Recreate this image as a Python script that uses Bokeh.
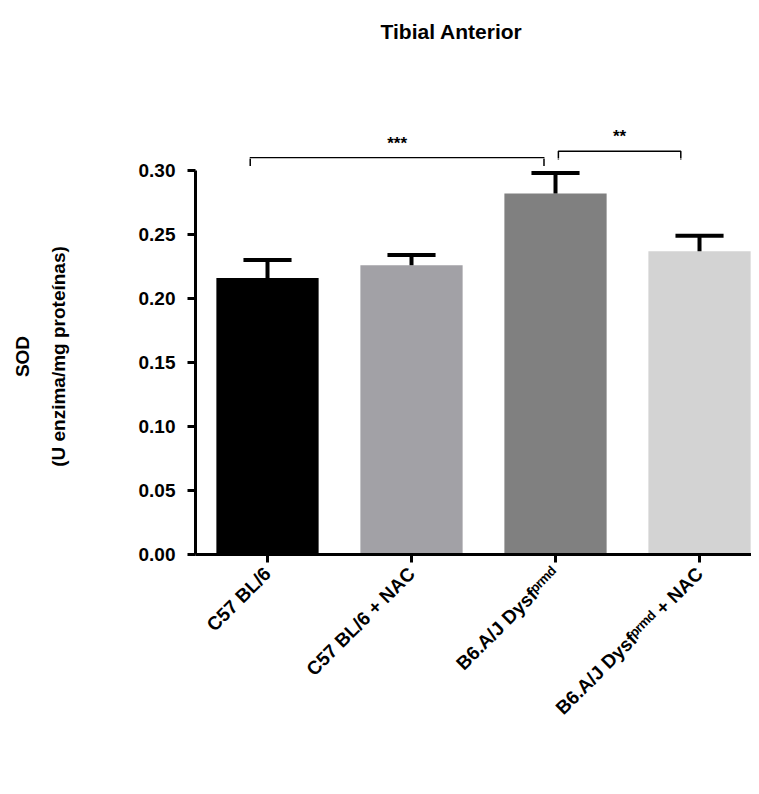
import math
from bokeh.plotting import figure
from bokeh.layouts import column
from bokeh.models import Range1d, FixedTicker, LinearAxis, NumeralTickFormatter, ColumnDataSource
from bokeh.core.properties import value
from bokeh.embed import file_html
from bokeh.resources import INLINE

# ---- data ----
groups = ["C57 BL/6", "C57 BL/6 + NAC", "B6.A/J Dysf\u1d56\u02b3\u1d50\u1d48", "B6.A/J Dysf\u1d56\u02b3\u1d50\u1d48 + NAC"]
means = [0.216, 0.226, 0.282, 0.237]
sem = [0.014, 0.008, 0.016, 0.012]
colors = ["#000000", "#a2a1a6", "#808080", "#d3d3d3"]
y_ticks = [0.00, 0.05, 0.10, 0.15, 0.20, 0.25, 0.30]
sig_pairs = [(0, 2), (2, 3)]
sig_labels = ["***", "**"]
sig_heights = [0.310, 0.315]
sig_insets = [(-0.12, -0.08), (0.02, -0.13)]
title_text = "Tibial Anterior"
ylabel_1 = "SOD"
ylabel_2 = "(U enzima/mg proteínas)"

FONT = "Liberation Sans"
xs = list(range(len(groups)))
xr = Range1d(-0.5, 3.361)
y_top = 0.4266
y_split = 0.309375   # boundary between the two stacked frames

def base(height, y_range, top, bottom):
    f = figure(width=751, height=height, x_range=xr, y_range=y_range,
               output_backend="svg", toolbar_location=None,
               min_border_left=195, min_border_right=0, min_border_top=top, min_border_bottom=bottom,
               x_axis_type=None, y_axis_type=None)
    f.outline_line_color = None
    f.xgrid.visible = False
    f.ygrid.visible = False
    f.background_fill_color = "white"
    f.border_fill_color = "white"
    return f

top = base(158, Range1d(y_split, y_top), 8, 0)
p = base(628, Range1d(0, y_split), 0, 232)

# significance brackets (drawn in both frames; each clips its own part)
drop = 0.0065
for (i, j), lab, h, (dl, dr) in zip(sig_pairs, sig_labels, sig_heights, sig_insets):
    xl, xrr = i + dl, j + dr
    for f in (top, p):
        f.line(x=[xl, xl, xrr, xrr], y=[h - drop, h, h, h - drop], line_color="black", line_width=1.5)
    top.text(x=[(xl + xrr) / 2], y=[h + 0.004], text=[lab], text_align="center", text_baseline="bottom",
             text_font=value(FONT), text_font_size="17px", text_font_style="bold", text_color="black")

top.text(x=[1.278], y=[0.409], text=[title_text], text_align="center", text_baseline="middle",
         text_font=value(FONT), text_font_size="21px", text_font_style="bold", text_color="black")

# bars
src = ColumnDataSource(dict(x=xs, top=means, color=colors,
                            up=[m + s for m, s in zip(means, sem)]))
p.vbar(x="x", top="top", bottom=0, width=0.71, fill_color="color", line_color=None, source=src)

# error bars (upper only)
p.segment(x0="x", y0="top", x1="x", y1="up", line_color="black", line_width=4, source=src)
cap_half = 0.167
p.segment(x0=[x - cap_half for x in xs], y0=src.data["up"], x1=[x + cap_half for x in xs], y1=src.data["up"],
          line_color="black", line_width=4)

# y axis
yax = LinearAxis(ticker=FixedTicker(ticks=y_ticks), formatter=NumeralTickFormatter(format="0.00"),
                 bounds=(0, 0.30))
yax.axis_line_width = 3
yax.major_tick_line_width = 3
yax.major_tick_out = 8
yax.major_tick_in = 0
yax.minor_tick_line_color = None
yax.major_label_standoff = 12
yax.major_label_text_font = FONT
yax.major_label_text_font_size = "19px"
yax.major_label_text_font_style = "bold"
yax.major_label_text_color = "black"
yax.axis_label = ylabel_2
yax.axis_label_standoff = 67
yax.axis_label_text_font = FONT
yax.axis_label_text_font_size = "19px"
yax.axis_label_text_font_style = "bold"
yax.axis_label_text_color = "black"
p.add_layout(yax, "left")

yax2 = LinearAxis(ticker=FixedTicker(ticks=[]), axis_line_color=None, major_tick_line_color=None,
                  minor_tick_line_color=None)
yax2.axis_label = ylabel_1
yax2.axis_label_standoff = 12
yax2.axis_label_text_font = FONT
yax2.axis_label_text_font_size = "19px"
yax2.axis_label_text_font_style = "bold"
yax2.axis_label_text_color = "black"
p.add_layout(yax2, "left")

# x axis
xax = LinearAxis(ticker=FixedTicker(ticks=xs), bounds=(-0.5, 3.361),
                 major_label_overrides={i: g for i, g in zip(xs, groups)})
xax.axis_line_width = 3
xax.major_tick_line_width = 3
xax.major_tick_out = 8
xax.major_tick_in = 0
xax.minor_tick_line_color = None
xax.major_label_orientation = math.pi / 4
xax.major_label_standoff = 8
xax.major_label_text_font = FONT
xax.major_label_text_font_size = "19px"
xax.major_label_text_font_style = "bold"
xax.major_label_text_color = "black"
p.add_layout(xax, "below")

layout = column(top, p, spacing=0)
open("out.html", "w").write(file_html(layout, INLINE))
